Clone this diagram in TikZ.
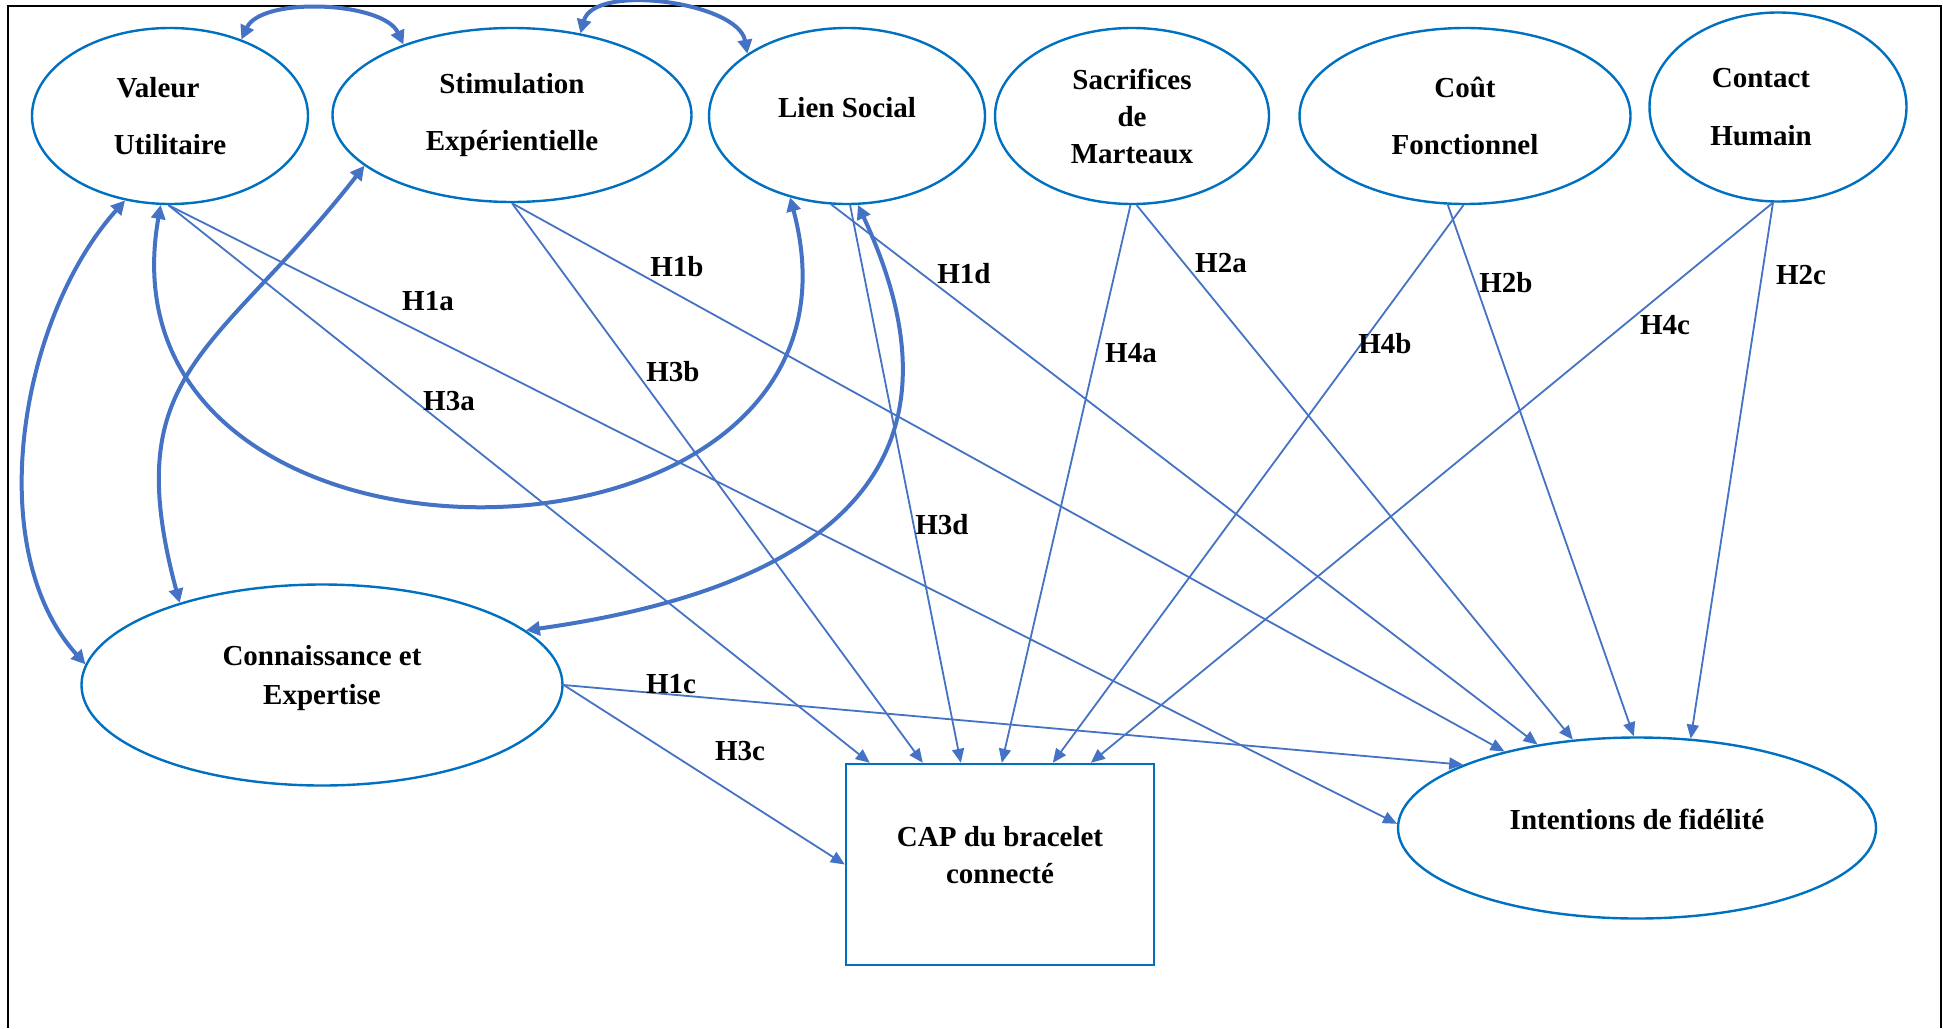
\documentclass[tikz,border=0pt]{standalone}
\usepackage{fontspec}
\setmainfont{Liberation Serif}
\usetikzlibrary{arrows.meta,shapes.geometric}
\definecolor{ovalblue}{HTML}{0070C0}
\definecolor{arrowblue}{HTML}{4472C4}
% invisible depth below the last line, to lift the text a little
\newcommand{\lowerpad}[1]{\rule[-#1]{0pt}{#1}}
\begin{document}
\begin{tikzpicture}[x=0.5pt,y=0.5pt,
	every node/.style={font=\bfseries\fontsize{14.5}{17}\selectfont},
	construct/.style={ellipse,draw=ovalblue,line width=1.2pt,align=center,inner sep=0pt},
	outcome/.style={rectangle,draw=ovalblue,line width=1.2pt,align=center,inner sep=0pt},
	effect/.style={draw=arrowblue,line width=0.9pt,-{Triangle[length=7pt,width=6pt]}},
	covar/.style={draw=arrowblue,line width=2pt,{Triangle[length=7pt,width=7pt]}-{Triangle[length=7pt,width=7pt]}},
	hyp/.style={inner sep=0pt}]
	\useasboundingbox (0,0) rectangle (1943,-1028);
	\draw [black,line width=1pt] (8,-1028) -- (8,-6) -- (1941,-6) -- (1941,-1028);
	% antecedents
	\node [construct,minimum width=138pt,minimum height=88pt,font=\bfseries\fontsize{14.5}{28.5}\selectfont] (valeur) at (170,-116) {Valeur\hspace*{12pt}\\Utilitaire};
	\node [construct,minimum width=179.5pt,minimum height=87pt,font=\bfseries\fontsize{14.5}{28.5}\selectfont] (stim) at (512,-115) {Stimulation\\Exp\'erientielle};
	\node [construct,minimum width=138pt,minimum height=88pt] (lien) at (847,-116) {Lien Social\lowerpad{9pt}};
	\node [construct,minimum width=137pt,minimum height=88pt,font=\bfseries\fontsize{14.5}{18.5}\selectfont] (sacrif) at (1132,-116) {Sacrifices\\de\\Marteaux};
	\node [construct,minimum width=165.5pt,minimum height=88pt,font=\bfseries\fontsize{14.5}{28.5}\selectfont] (cout) at (1465,-116) {Co\^ut\\Fonctionnel};
	\node [construct,minimum width=128.5pt,minimum height=94.5pt,font=\bfseries\fontsize{14.5}{29}\selectfont] (contact) at (1778,-107) {Contact\hspace*{17pt}\\Humain\hspace*{17pt}};
	\node [construct,minimum width=240.5pt,minimum height=100.5pt,font=\bfseries\fontsize{14.5}{19.5}\selectfont] (connais) at (322,-685) {Connaissance et\\Expertise\lowerpad{10pt}};
	% outcomes
	\node [outcome,minimum width=154pt,minimum height=100.5pt,font=\bfseries\fontsize{14.5}{18.5}\selectfont] (cap) at (1000,-864.5) {CAP du bracelet\\connect\'e\lowerpad{9.5pt}};
	\node [construct,minimum width=239pt,minimum height=90.5pt] (intent) at (1637,-828) {Intentions de fid\'elit\'e\lowerpad{9pt}};
	% correlations
	\draw [covar] (valeur.47) to[out=65,in=115,looseness=0.75] (stim.147);
	\draw [covar] (stim.50) to[out=75,in=100,looseness=0.8] (lien.148);
	\draw [covar] (valeur.-118) to[out=228,in=132,looseness=0.86] (connais.175);
	\draw [covar] (valeur.-96) to[out=260,in=285,looseness=1.68] (lien.-125);
	\draw [covar] (stim.199) to[out=232,in=105,looseness=1.3] (connais.150);
	\draw [covar] (lien.-83) to[out=295,in=8,looseness=1.4] (connais.15);
	% hypotheses
	\draw [effect] (valeur.-91) -- (intent.179);
	\draw [effect] (valeur.-91) -- ([xshift=12.5pt]cap.north west);
	\draw [effect] (stim.-90) -- (intent.150);
	\draw [effect] (stim.-90) -- ([xshift=39pt]cap.north west);
	\draw [effect] (lien.-100) -- (intent.140);
	\draw [effect] (lien.-88) -- ([xshift=58pt]cap.north west);
	\draw [effect] (sacrif.-87) -- (intent.126);
	\draw [effect] (sacrif.-91) -- ([xshift=78.5pt]cap.north west);
	\draw [effect] (cout.-101) -- (intent.92);
	\draw [effect] (cout.-91) -- ([xshift=104pt]cap.north west);
	\draw [effect] (contact.-93) -- (intent.59);
	\draw [effect] (contact.-93) -- ([xshift=123pt]cap.north west);
	\draw [effect] (connais.east) -- (intent.160);
	\draw [effect] (connais.east) -- (cap.west);
	\node [hyp] (h1a) at (428,-301) {H1a};
	\node [hyp] (h1b) at (677,-267) {H1b};
	\node [hyp] (h3a) at (449,-401) {H3a};
	\node [hyp] (h3b) at (673,-372) {H3b};
	\node [hyp] (h1d) at (964,-274) {H1d};
	\node [hyp] (h3d) at (942,-525) {H3d};
	\node [hyp] (h4a) at (1131,-353) {H4a};
	\node [hyp] (h2a) at (1221,-263) {H2a};
	\node [hyp] (h4b) at (1385,-344) {H4b};
	\node [hyp] (h2b) at (1506,-283) {H2b};
	\node [hyp] (h4c) at (1665,-325) {H4c};
	\node [hyp] (h2c) at (1801,-275) {H2c};
	\node [hyp] (h1c) at (671,-684) {H1c};
	\node [hyp] (h3c) at (740,-751) {H3c};
\end{tikzpicture}
\end{document}
